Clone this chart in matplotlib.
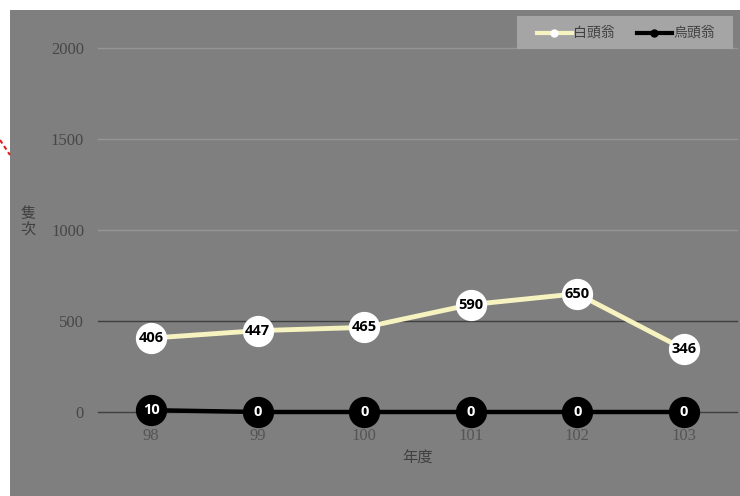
import matplotlib.pyplot as plt
from matplotlib.patches import Rectangle
from matplotlib.lines import Line2D

# 年度與兩種鳥類的隻次
years = ["98", "99", "100", "101", "102", "103"]
white_head = [406, 447, 465, 590, 650, 346]
black_head = [10, 0, 0, 0, 0, 0]
y_ticks = [0, 500, 1000, 1500, 2000]

cjk = ["Noto Sans CJK TC", "DejaVu Sans"]
bg = "#7f7f7f"

fig = plt.figure(figsize=(7.4, 4.96), dpi=100)
fig.patch.set_facecolor("white")

# 灰色底板
fig.patches.append(Rectangle((10 / 740, 0), 730 / 740, 486 / 496,
                             transform=fig.transFigure, facecolor=bg,
                             edgecolor="none", zorder=-2))
# 左邊的紅色虛線
fig.lines.append(Line2D([0, 10 / 740], [356 / 496, 341 / 496],
                        transform=fig.transFigure, color="#e02020",
                        linestyle=(0, (2, 1.5)), linewidth=1.5, zorder=-1))

ax = fig.add_axes([98 / 740, 84 / 496, 639 / 740, 364 / 496])
ax.set_zorder(1)
ax.set_facecolor("none")
x = list(range(len(years)))

ax.set_xlim(-0.5, 5.5)
ax.set_ylim(0, 2000)

# 格線：上面三條較淡，下面兩條較深
for v in y_ticks:
    col = "#3f3f3f" if v <= 500 else "#959595"
    ax.axhline(v, color=col, linewidth=1.0, zorder=1, clip_on=False)

ax.plot(x, white_head, color="#f7f3c0", linewidth=3.5, zorder=2)
ax.plot(x, black_head, color="black", linewidth=3.2, zorder=2, clip_on=False)
ax.plot(x, white_head, linestyle="none", marker="o", markersize=21.5,
        markerfacecolor="white", markeredgecolor="white", zorder=3)
ax.plot(x, black_head, linestyle="none", marker="o", markersize=21.5,
        markerfacecolor="black", markeredgecolor="black", zorder=3,
        clip_on=False)

for xi, v in zip(x, white_head):
    ax.text(xi, v, str(v), ha="center", va="center", fontsize=10.5,
            fontweight="bold", color="black", family="Open Sans", zorder=4)
for xi, v in zip(x, black_head):
    ax.text(xi, v, str(v), ha="center", va="center", fontsize=10.5,
            fontweight="bold", color="white", family="Open Sans", zorder=4,
            clip_on=False)

for s in ax.spines.values():
    s.set_visible(False)
ax.tick_params(length=0)
ax.set_xticks(x)
ax.set_xticklabels(years, family="Liberation Serif", fontsize=12,
                   color="#555555")
ax.set_yticks(y_ticks)
ax.set_yticklabels([str(v) for v in y_ticks], family="Liberation Serif",
                   fontsize=12, color="#474747")
ax.tick_params(axis="x", pad=11.5)
ax.tick_params(axis="y", pad=10)

ax.set_xlabel("年度", family=cjk, fontsize=11, color="#404040", labelpad=4)
fig.text(28 / 740, 1 - 222 / 496, "隻\n次", family=cjk, fontsize=11,
         color="#404040", ha="center", va="center", linespacing=0.95)

# 圖例
fig.patches.append(Rectangle((517 / 740, 1 - 49 / 496), 216 / 740, 33 / 496,
                             transform=fig.transFigure, facecolor="#a5a5a5",
                             edgecolor="none", zorder=5))
legend_items = [("白頭翁", "#f7f3c0", "white", 537), ("烏頭翁", "black", "black", 637)]
for name, lc, mc, lx in legend_items:
    ly = 1 - 33 / 496
    fig.lines.append(Line2D([lx / 740, (lx + 35) / 740], [ly, ly],
                            transform=fig.transFigure, color=lc, linewidth=3,
                            zorder=6))
    fig.lines.append(Line2D([(lx + 17) / 740], [ly], transform=fig.transFigure,
                            marker="o", markersize=5, color=mc,
                            linestyle="none", zorder=7))
    fig.text((lx + 36) / 740, ly, name, family=cjk, fontsize=10,
             color="#404040", ha="left", va="center", zorder=7)

fig.savefig("out.png", dpi=100, facecolor=fig.get_facecolor())
